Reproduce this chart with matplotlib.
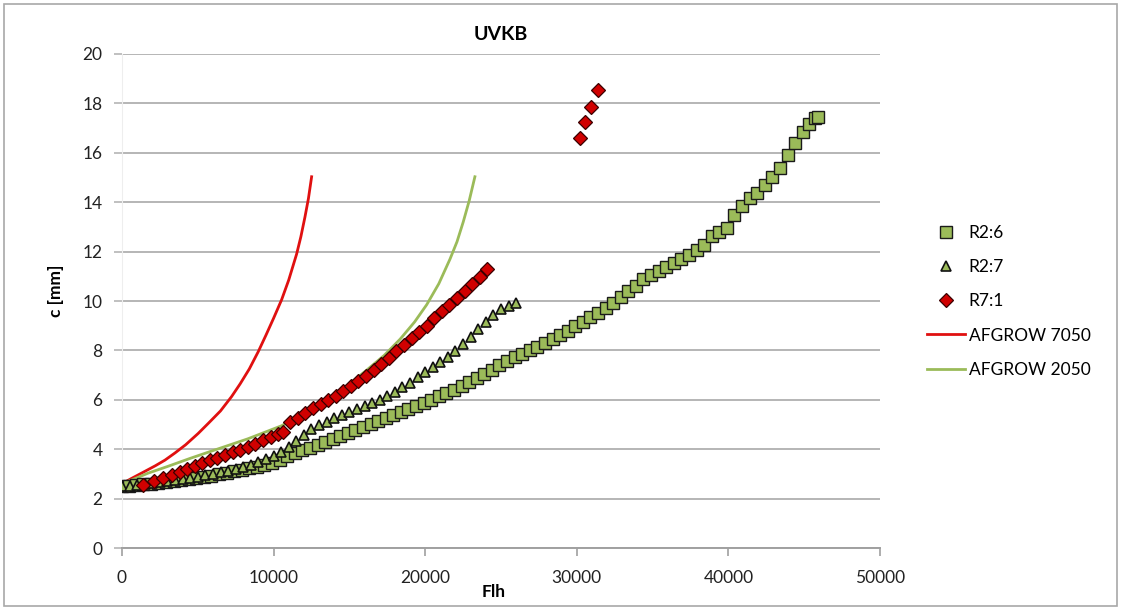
import matplotlib
matplotlib.use("Agg")
import matplotlib.pyplot as plt
from matplotlib.patches import Rectangle

plt.rcParams['font.family'] = ['Lato', 'DejaVu Sans']

# R2:6 measurements (Flh, c in mm)
r26_x = [0, 450, 900, 1400, 1900, 2400, 2900, 3400, 3900, 4400,
         4900, 5400, 5900, 6400, 6900, 7400, 7900, 8400, 8900, 9400,
         9900, 10400, 10900, 11400, 11900, 12400, 12900, 13400, 13900, 14400,
         14900, 15400, 15900, 16400, 16900, 17400, 17900, 18400, 18900, 19400,
         19900, 20400, 20900, 21400, 21900, 22400, 22900, 23400, 23900, 24400,
         24900, 25400, 25900, 26400, 26900, 27400, 27900, 28400, 28900, 29400,
         29900, 30400, 30900, 31400, 31900, 32400, 32900, 33400, 33900, 34400,
         34900, 35400, 35900, 36400, 36900, 37400, 37900, 38400, 38900, 39400,
         39900, 40400, 40900, 41400, 41900, 42400, 42900, 43400, 43900, 44400,
         44900, 45300, 45700, 45900]
r26_y = [2.50, 2.52, 2.55, 2.58, 2.60, 2.63, 2.67, 2.70, 2.74, 2.78,
         2.82, 2.87, 2.93, 2.98, 3.04, 3.10, 3.16, 3.22, 3.30, 3.38,
         3.46, 3.58, 3.72, 3.85, 3.96, 4.06, 4.17, 4.30, 4.42, 4.55,
         4.66, 4.79, 4.90, 5.02, 5.15, 5.28, 5.40, 5.51, 5.63, 5.76,
         5.89, 6.01, 6.14, 6.26, 6.40, 6.56, 6.72, 6.88, 7.05, 7.22,
         7.40, 7.56, 7.72, 7.86, 8.00, 8.14, 8.28, 8.45, 8.62, 8.80,
         8.98, 9.15, 9.34, 9.52, 9.72, 9.92, 10.15, 10.40, 10.62, 10.90,
         11.05, 11.20, 11.38, 11.55, 11.70, 11.88, 12.05, 12.25, 12.65, 12.78,
         12.96, 13.50, 13.85, 14.15, 14.38, 14.70, 15.00, 15.40, 15.90, 16.40,
         16.85, 17.15, 17.40, 17.45]

# R2:7 measurements
r27_x = [0, 500, 1000, 1500, 2000, 2500, 3000, 3500, 4000, 4500,
         5000, 5500, 6000, 6500, 7000, 7500, 8000, 8500, 9000, 9500,
         10000, 10500, 11000, 11500, 12000, 12500, 13000, 13500, 14000, 14500,
         15000, 15500, 16000, 16500, 17000, 17500, 18000, 18500, 19000, 19500,
         20000, 20500, 21000, 21500, 22000, 22500, 23000, 23500, 24000, 24500,
         25000, 25500, 26000]
r27_y = [2.50, 2.52, 2.55, 2.60, 2.63, 2.66, 2.70, 2.75, 2.80, 2.84,
         2.88, 2.94, 3.00, 3.07, 3.13, 3.20, 3.28, 3.38, 3.48, 3.60,
         3.74, 3.90, 4.10, 4.35, 4.58, 4.80, 4.98, 5.12, 5.28, 5.40,
         5.52, 5.62, 5.74, 5.86, 6.00, 6.16, 6.32, 6.50, 6.70, 6.92,
         7.12, 7.32, 7.52, 7.72, 7.98, 8.25, 8.55, 8.88, 9.15, 9.45,
         9.66, 9.80, 9.90]

# R7:1 measurements
r71_x = [1400, 2100, 2700, 3300, 3800, 4300, 4800, 5300, 5800, 6300,
         6800, 7300, 7800, 8300, 8800, 9300, 9800, 10300, 10600, 11100,
         11600, 12100, 12600, 13100, 13600, 14100, 14600, 15100, 15600, 16100,
         16600, 17100, 17600, 18100, 18600, 19100, 19600, 20100, 20600, 21100,
         21600, 22100, 22600, 23100, 23600, 24100,
         30200, 30550, 30950, 31400]
r71_y = [2.55, 2.70, 2.85, 2.96, 3.08, 3.20, 3.32, 3.44, 3.56, 3.66,
         3.77, 3.88, 3.98, 4.10, 4.22, 4.36, 4.48, 4.60, 4.68, 5.10,
         5.25, 5.45, 5.68, 5.85, 6.00, 6.15, 6.35, 6.55, 6.75, 6.98,
         7.20, 7.45, 7.70, 7.98, 8.22, 8.50, 8.75, 9.00, 9.32, 9.60,
         9.85, 10.12, 10.40, 10.70, 10.98, 11.30,
         16.60, 17.25, 17.85, 18.55]

# AFGROW predictions
afg7050_x = [0, 640, 1500, 2200, 2840, 3500, 4200, 5030, 5700, 6500, 7230, 7800, 8400, 8990,
             9500, 10000, 10530, 11000, 11520, 11800, 12070, 12300, 12510]
afg7050_y = [2.60, 2.82, 3.10, 3.33, 3.56, 3.85, 4.18, 4.64, 5.05, 5.55, 6.13, 6.65, 7.25, 7.95,
             8.62, 9.30, 10.05, 10.85, 11.90, 12.60, 13.40, 14.15, 15.03]
afg2050_x = [0, 900, 1720, 3000, 4500, 6130, 8300, 10530, 12000, 13500, 14800, 16140, 17300,
             18340, 19300, 20100, 20900, 21640, 22100, 22510, 22900, 23280]
afg2050_y = [2.60, 2.82, 3.03, 3.30, 3.63, 3.97, 4.42, 4.95, 5.45, 6.00, 6.55, 7.20, 7.80,
             8.45, 9.15, 9.85, 10.70, 11.70, 12.40, 13.20, 14.05, 15.03]

green = '#9BBB59'
red = '#E01010'

fig = plt.figure(figsize=(11.21, 6.10), dpi=100)
ax = fig.add_axes([0.1088, 0.1016, 0.6762, 0.8099])

ax.plot(afg7050_x, afg7050_y, color=red, lw=2.0, label='AFGROW 7050', zorder=2)
ax.plot(afg2050_x, afg2050_y, color=green, lw=2.0, label='AFGROW 2050', zorder=2)
ax.plot(r26_x, r26_y, ls='none', marker='s', ms=8.5, mfc=green, mec='#1a1a1a', mew=1.0,
        label='R2:6', zorder=3)
ax.plot(r27_x, r27_y, ls='none', marker='^', ms=6.5, mfc=green, mec='#111111', mew=1.2,
        label='R2:7', zorder=4)
ax.plot(r71_x, r71_y, ls='none', marker='D', ms=7, mfc='#D00000', mec='#3a0000', mew=0.9,
        label='R7:1', zorder=5)

ax.set_xlim(0, 50000)
ax.set_ylim(0, 20)
ax.set_xticks(range(0, 50001, 10000))
ax.set_yticks(range(0, 21, 2))
ax.grid(axis='y', color='#B5B5B5', lw=1.4)
ax.set_axisbelow(True)
for s in ['top', 'right']:
    ax.spines[s].set_visible(False)
ax.spines['left'].set_color('#EEEEEE')
ax.spines['bottom'].set_color('#A0A0A0')
ax.spines['bottom'].set_linewidth(1.4)
ax.tick_params(axis='x', length=6, color='#A0A0A0', width=1.2, pad=10, labelsize=12.5, labelcolor='#222222')
ax.tick_params(axis='y', length=6, color='#B5B5B5', width=1.2, pad=8, labelsize=12.5, labelcolor='#222222')

ax.set_title('UVKB', fontsize=14, fontweight='bold', y=1.012)
ax.set_xlabel('Flh', fontsize=12.5, fontweight='bold')
ax.xaxis.set_label_coords(0.49, -0.072)
ax.set_ylabel('c [mm]', fontsize=12.5, fontweight='bold')
ax.yaxis.set_label_coords(-0.076, 0.52)

h, l = ax.get_legend_handles_labels()
order = [2, 3, 4, 0, 1]
fig.legend([h[i] for i in order], [l[i] for i in order], loc='center left',
           bbox_to_anchor=(0.813, 0.506), frameon=False, fontsize=12.5,
           labelspacing=1.05, handlelength=2.2, handletextpad=0.2)

fig.patches.append(Rectangle((0.004, 0.006), 0.992, 0.988, transform=fig.transFigure,
                             fill=False, ec='#A8A8A8', lw=1.2))

fig.savefig('out.png', dpi=100)
